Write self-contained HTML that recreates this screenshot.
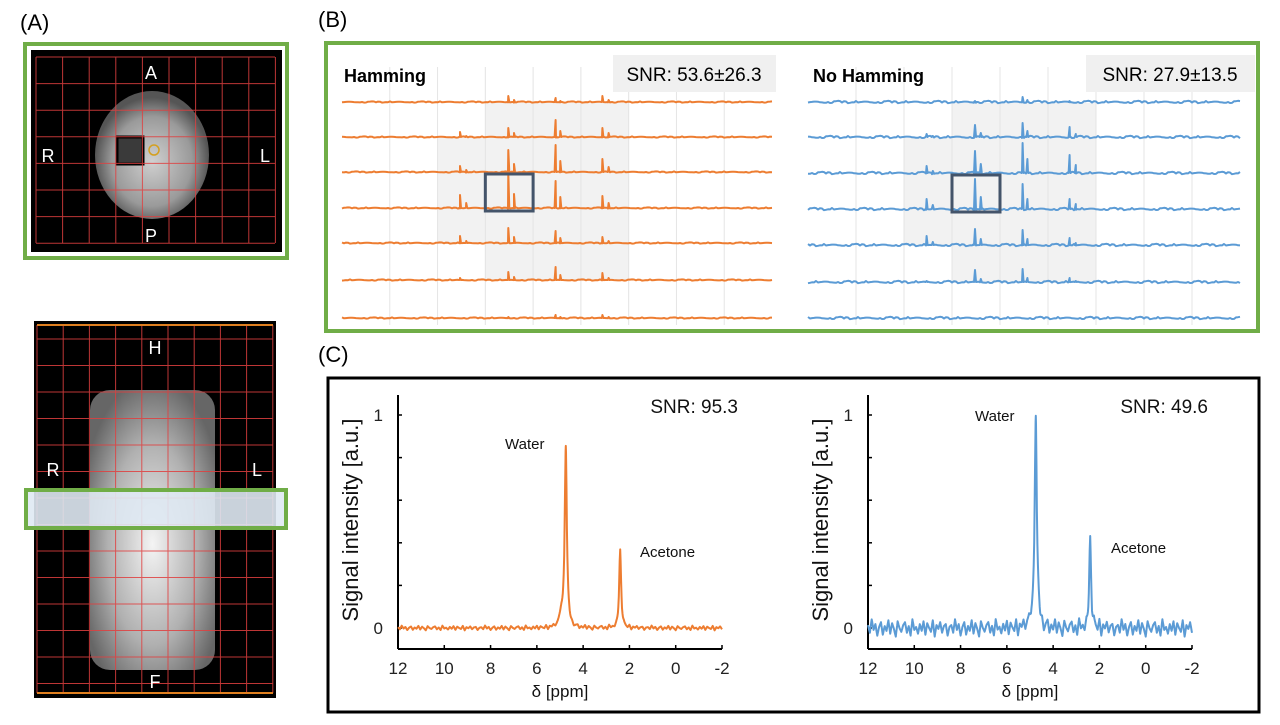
<!DOCTYPE html>
<html><head><meta charset="utf-8"><style>
body{margin:0;background:#fff;font-family:"Liberation Sans",sans-serif;}
svg text{font-family:"Liberation Sans",sans-serif;}
</style></head><body>
<svg id="fig" width="1280" height="720" viewBox="0 0 1280 720" xmlns="http://www.w3.org/2000/svg">
<defs>
<radialGradient id="g1" cx="0.5" cy="0.55" r="0.5"><stop offset="0" stop-color="#d0d0d0"/><stop offset="0.7" stop-color="#9a9a9a"/><stop offset="1" stop-color="#555"/></radialGradient>
<radialGradient id="g2" cx="0.5" cy="0.55" r="0.6"><stop offset="0" stop-color="#f4f4f4"/><stop offset="0.6" stop-color="#b0b0b0"/><stop offset="1" stop-color="#666"/></radialGradient>
</defs>
<!-- Panel A -->
<text x="20" y="30" font-size="22">(A)</text>
<g>
<rect x="25" y="44" width="262" height="214" fill="#fff" stroke="#70ad47" stroke-width="4"/>
<rect x="31" y="50" width="251" height="202" fill="#000"/>
<ellipse cx="152" cy="155" rx="57" ry="64" fill="url(#g1)"/>
<rect x="117" y="137" width="26" height="27" fill="#3a3a3a" stroke="#000" stroke-width="3"/>
<circle cx="154" cy="150" r="5" fill="none" stroke="#d4a020" stroke-width="1.5"/>
<g id="gridA" stroke="#e04040" stroke-width="1" opacity="0.85"></g>
<text x="151" y="79" fill="#fff" font-size="18" text-anchor="middle">A</text>
<text x="48" y="162" fill="#fff" font-size="18" text-anchor="middle">R</text>
<text x="265" y="162" fill="#fff" font-size="18" text-anchor="middle">L</text>
<text x="151" y="242" fill="#fff" font-size="18" text-anchor="middle">P</text>
</g>
<g>
<rect x="34" y="321" width="242" height="377" fill="#000"/>
<rect x="90" y="390" width="125" height="280" rx="20" fill="url(#g2)"/>
<g id="gridA2" stroke="#e04040" stroke-width="1" opacity="0.85"></g>
<line x1="37" y1="325" x2="273" y2="325" stroke="#e08020" stroke-width="2"/>
<line x1="37" y1="693" x2="273" y2="693" stroke="#e08020" stroke-width="2"/>
<rect x="26" y="490" width="260" height="38" fill="#dfe9f3" fill-opacity="0.9" stroke="#70ad47" stroke-width="4"/>
<text x="155" y="354" fill="#fff" font-size="18" text-anchor="middle">H</text>
<text x="53" y="476" fill="#fff" font-size="18" text-anchor="middle">R</text>
<text x="257" y="476" fill="#fff" font-size="18" text-anchor="middle">L</text>
<text x="155" y="688" fill="#fff" font-size="18" text-anchor="middle">F</text>
</g>
<!-- Panel B -->
<text x="318" y="27" font-size="22">(B)</text>
<rect x="326" y="43" width="932" height="288" fill="#fff" stroke="#70ad47" stroke-width="4"/>
<g id="panelB"></g>
<text x="344" y="82" font-size="18" font-weight="bold">Hamming</text>
<rect x="613" y="55" width="163" height="37" fill="#f0f0f0"/>
<text x="694" y="81" font-size="19" text-anchor="middle">SNR: 53.6±26.3</text>
<text x="813" y="82" font-size="18" font-weight="bold">No Hamming</text>
<rect x="1086" y="55" width="169" height="37" fill="#f0f0f0"/>
<text x="1170" y="81" font-size="19" text-anchor="middle">SNR: 27.9±13.5</text>
<!-- Panel C -->
<text x="318" y="362" font-size="22">(C)</text>
<rect x="328" y="378" width="931" height="334" fill="#fff" stroke="#000" stroke-width="3"/>
<g id="panelC"></g>
</svg>
<script>
// ---- Panel B data ----
const bPeakCols = [2.47, 2.6, 3.48, 3.6, 4.47, 4.57, 5.45, 5.58];
const hamHeights = [
 [0,0,6,2,4,1,6,2],
 [5,1,9,4,17,6,9,4],
 [6,2,22,8,27,11,13,5],
 [13,5,35,14,27,11,12,5],
 [7,2,15,6,12,5,6,2],
 [2,0,8,3,13,5,7,2],
 [0,0,1,0,3,1,3,1]
];
const noHamHeights = [
 [0,0,1,0,5,2,1,0],
 [3,1,12,4,14,6,10,3],
 [7,2,22,9,30,14,18,8],
 [10,4,30,12,25,10,10,5],
 [9,3,16,6,15,6,7,2],
 [1,0,12,3,13,4,4,1],
 [0,0,0,0,0,0,0,0]
];
const bNoise = [0.4,-0.6,0.8,-0.3,0.2,-0.9,0.5,0.1,-0.4,0.7,-0.2,0.3,-0.7,0.6,-0.1,0.9,-0.5,0.2,-0.8,0.4,0.0,-0.3,0.6,-0.6,0.3];
// ---- Panel C data ----
const cTicksX = [12,10,8,6,4,2,0,-2];
const cTicksY = [0,0.2,0.4,0.6,0.8,1];
const peakPpm = [4.95, 4.75, 2.4];
const peakWidth = [0.15, 0.11, 0.1];
const hamPeakAmp = [0.06, 0.85, 0.36];
const noHamPeakAmp = [0.04, 1.0, 0.40];
const cNoise = [0.3,-0.5,0.9,-0.2,0.4,-0.8,0.1,0.6,-0.7,0.2,-0.3,0.8,-0.6,0.5,-0.1,-0.9,0.7,0.0,-0.4,0.3,0.6,-0.5,0.2,-0.8,0.9,-0.2,0.1,-0.6,0.4,-0.3,0.7,-0.7,0.5,0.0,-0.4,0.8,-0.9,0.3,-0.1,0.6,-0.5,0.2,0.4,-0.8,0.1];
const NS='http://www.w3.org/2000/svg';
function mk(tag, attrs, parent){const e=document.createElementNS(NS,tag);for(const k in attrs)e.setAttribute(k,attrs[k]);parent.appendChild(e);return e;}

// grids for panel A
const gA=document.getElementById('gridA');
for(let i=0;i<10;i++){const x=36+i*26.6;mk('line',{x1:x,y1:57,x2:x,y2:243},gA);}
for(let j=0;j<8;j++){const y=57+j*26.6;mk('line',{x1:36,y1:y,x2:275,y2:y},gA);}
const gA2=document.getElementById('gridA2');
for(let i=0;i<10;i++){const x=37+i*26.2;mk('line',{x1:x,y1:325,x2:x,y2:693},gA2);}
for(let j=0;j<15;j++){const y=339+j*26.5;if(y>693)break;mk('line',{x1:37,y1:y,x2:273,y2:y},gA2);}

// Panel B
const pB=document.getElementById('panelB');
function drawB(x0,x1,baselines,heights,color,noiseAmp,name){
  const colW=(x1-x0)/9;
  const xs=c=>x0+c*colW;
  mk('rect',{x:xs(3),y:baselines[0]+1,width:colW*3,height:baselines[5]-baselines[0],fill:'#f2f2f2'},pB);
  mk('rect',{x:xs(2),y:baselines[1]+1,width:colW,height:baselines[4]-baselines[1],fill:'#f2f2f2'},pB);
  for(let i=1;i<9;i++){mk('line',{x1:xs(i),y1:67,x2:xs(i),y2:325,stroke:'#e4e4e4','stroke-width':1},pB);}
  baselines.forEach((b,r)=>{
    const pts=[];
    let k=0;
    for(let x=x0;x<=x1;x+=2){
      pts.push([x,b+bNoise[(k*7+r*3)%bNoise.length]*noiseAmp]);k++;
    }
    bPeakCols.forEach((c,p)=>{
      const h=heights[r][p]; if(h<=0)return;
      const px=xs(c);
      pts.push([px-1,b],[px,b-h],[px+1,b]);
    });
    pts.sort((a,b)=>a[0]-b[0]);
    const pl=mk('polyline',{points:pts.map(p=>p[0].toFixed(1)+','+p[1].toFixed(1)).join(' '),fill:'none',stroke:color,'stroke-width':2,'stroke-linejoin':'round'},pB);
    
    
  });
  const box=mk('rect',{x:xs(3),y:baselines[2]+2,width:colW,height:baselines[3]-baselines[2]+1,fill:'none',stroke:'#44546a','stroke-width':3},pB);
  
  
}
drawB(342,772,[102,137,172,208,243,280,318],hamHeights,'#ed7d31',0.7,'hamming');
drawB(808,1240,[102,137,173,209,245,282,318],noHamHeights,'#5b9bd5',1.3,'no-hamming');

// Panel C
const pC=document.getElementById('panelC');
function drawC(ox,amps,noiseAmp,color,snr,name,waterPos,acetPos){
  const xl=ox, xr=ox+324, y0=628, y1=415;
  const X=p=>xl+(12-p)/14*(xr-xl);
  const Y=v=>y0-v*(y0-y1);
  mk('line',{x1:xl,y1:395,x2:xl,y2:649,stroke:'#000','stroke-width':2},pC);
  mk('line',{x1:xl,y1:649,x2:xr,y2:649,stroke:'#000','stroke-width':2},pC);
  cTicksX.forEach(t=>{
    mk('line',{x1:X(t),y1:649,x2:X(t),y2:645,stroke:'#000','stroke-width':1.5},pC);
    const tx=mk('text',{x:X(t),y:674,'font-size':17,'text-anchor':'middle',fill:'#222'},pC);tx.textContent=t;
    
    
  });
  cTicksY.forEach(t=>{
    mk('line',{x1:xl,y1:Y(t),x2:xl+4,y2:Y(t),stroke:'#000','stroke-width':1.5},pC);
    if(t===0||t===1){const ty=mk('text',{x:xl-15,y:Y(t)+6,'font-size':17,'text-anchor':'end',fill:'#222'},pC);ty.textContent=t;
    
    }
  });
  const ppms=[];
  for(let p=12;p>=-2.001;p-=0.02)ppms.push(p);
  peakPpm.forEach(pp=>ppms.push(pp));
  ppms.sort((a,b)=>b-a);
  const nStep=0.08;
  const noiseAt=p=>{const f=(12-p)/nStep;const i=Math.floor(f);const t=f-i;
    const a=cNoise[i%cNoise.length],b=cNoise[(i+1)%cNoise.length];return (a*(1-t)+b*t)*noiseAmp;};
  const pts=ppms.map(p=>{
    let v=noiseAt(p);
    peakPpm.forEach((pp,i)=>{const d=(p-pp)/peakWidth[i];v+=amps[i]/(1+d*d*4);});
    return X(p).toFixed(1)+','+Y(v).toFixed(1);
  });
  const pl=mk('polyline',{points:pts.join(' '),fill:'none',stroke:color,'stroke-width':2,'stroke-linejoin':'round'},pC);
  
  
  const yl=mk('text',{x:0,y:0,'font-size':22,'text-anchor':'middle',fill:'#111',transform:`translate(${xl-40},520) rotate(-90)`},pC);yl.textContent='Signal intensity [a.u.]';
  
  
  const xlb=mk('text',{x:X(5),y:697,'font-size':17,'text-anchor':'middle',fill:'#111'},pC);xlb.textContent='δ [ppm]';
  
  
  const w=mk('text',{x:waterPos[0],y:waterPos[1],'font-size':15,fill:'#111'},pC);w.textContent='Water';
  
  
  const a=mk('text',{x:acetPos[0],y:acetPos[1],'font-size':15,fill:'#111'},pC);a.textContent='Acetone';
  
  
  const s=mk('text',{x:xr+16,y:413,'font-size':19,'text-anchor':'end',fill:'#111'},pC);s.textContent='SNR: '+snr;
  
  
}
drawC(398,hamPeakAmp,0.012,'#ed7d31','95.3','hamming-c',[505,449],[640,557]);
drawC(868,noHamPeakAmp,0.045,'#5b9bd5','49.6','no-hamming-c',[975,421],[1111,553]);
</script>
</body></html>
